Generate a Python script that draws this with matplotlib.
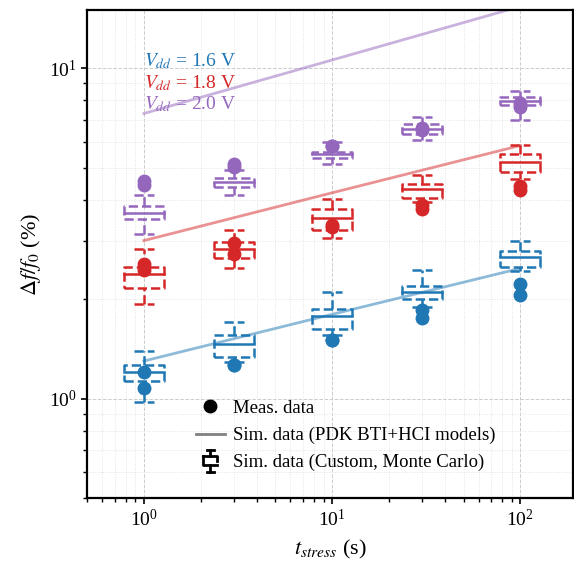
import numpy as np
import matplotlib.pyplot as plt
from matplotlib.lines import Line2D
from matplotlib.legend_handler import HandlerBase

plt.rcParams['font.family'] = 'serif'
plt.rcParams['font.serif'] = ['Liberation Serif', 'DejaVu Serif']
plt.rcParams['mathtext.fontset'] = 'stix'

t_stress = [1, 3, 10, 30, 100]
vdd_labels = ['1.6', '1.8', '2.0']
colors = ['#1f77b4', '#d62728', '#9467bd']

# measured shift, two dies per stress time
meas_a = [[1.20, 1.26, 1.50, 1.85, 2.22],
          [2.55, 2.95, 3.36, 3.87, 4.39],
          [4.57, 5.12, 5.84, 6.62, 7.83]]
meas_b = [[1.08, 1.26, 1.50, 1.76, 2.06],
          [2.46, 2.75, 3.30, 3.74, 4.27],
          [4.42, 5.01, 5.84, 6.49, 7.62]]

# PDK aging model
t_pdk = [1, 10, 100]
pdk = [[1.30, 1.80, 2.48],
       [3.01, 4.20, 5.84],
       [7.30, 10.6, 15.4]]

# Monte Carlo box stats
whis_lo = [[0.98, 1.29, 1.56, 1.90, 2.43],
           [1.93, 2.49, 3.07, 3.93, 4.61],
           [3.16, 4.15, 5.12, 6.05, 7.00]]
q1 = [[1.13, 1.34, 1.62, 2.00, 2.51],
      [2.17, 2.67, 3.25, 4.06, 4.84],
      [3.51, 4.36, 5.37, 6.31, 7.73]]
med = [[1.20, 1.46, 1.78, 2.10, 2.68],
       [2.38, 2.83, 3.53, 4.30, 5.19],
       [3.66, 4.54, 5.49, 6.53, 7.94]]
q3 = [[1.26, 1.56, 1.87, 2.20, 2.79],
      [2.51, 2.97, 3.74, 4.45, 5.49],
      [3.82, 4.67, 5.60, 6.77, 8.17]]
whis_hi = [[1.39, 1.71, 2.10, 2.46, 3.01],
           [2.83, 3.25, 4.01, 4.77, 5.88],
           [4.15, 4.94, 5.97, 7.10, 8.52]]

# label heights for the supply voltage tags
vdd_text_y = [10.5, 9.05, 7.8]


def draw_box(ax, x, lo, b1, m, b3, hi, color, half=1.277, cap=1.13):
    # symmetric in log-x
    kw = dict(color=color, lw=1.8, ls='--', zorder=3)
    xl, xr = x / half, x * half
    ax.plot([xl, xr, xr, xl, xl], [b1, b1, b3, b3, b1], **kw)
    ax.plot([x, x], [b3, hi], **kw)
    ax.plot([x, x], [lo, b1], **kw)
    ax.plot([x / cap, x * cap], [hi, hi], **kw)
    ax.plot([x / cap, x * cap], [lo, lo], **kw)
    ax.plot([xl, xr], [m, m], color=color, lw=1.8, zorder=3)


class BoxHandler(HandlerBase):
    def create_artists(self, legend, orig_handle, xdescent, ydescent,
                       width, height, fontsize, trans):
        cx = width / 2 - xdescent
        h = height * 1.7
        y0 = -ydescent - 0.35 * height
        w = width * 0.25
        kw = dict(color='k', lw=2, transform=trans)
        segs = [
            ([cx - w / 2, cx + w / 2], [y0 + h, y0 + h]),
            ([cx, cx], [y0 + h, y0 + 0.7 * h]),
            ([cx - w, cx + w, cx + w], [y0 + 0.7 * h, y0 + 0.7 * h, y0 + 0.5 * h]),
            ([cx - w, cx - w, cx + w], [y0 + 0.7 * h, y0 + 0.3 * h, y0 + 0.3 * h]),
            ([cx, cx], [y0 + 0.3 * h, y0]),
            ([cx - w / 2, cx + w / 2], [y0, y0]),
        ]
        return [Line2D(xs, ys, **kw) for xs, ys in segs]


fig = plt.figure(figsize=(5.74, 5.66), dpi=100)
ax = fig.add_axes([0.152, 0.12, 0.846, 0.862])
ax.set_xscale('log')
ax.set_yscale('log')

for i, c in enumerate(colors):
    ax.plot(t_pdk, pdk[i], color=c, lw=2, alpha=0.5, zorder=2)
    for j, t in enumerate(t_stress):
        draw_box(ax, t, whis_lo[i][j], q1[i][j], med[i][j], q3[i][j],
                 whis_hi[i][j], c)
    ax.plot(t_stress, meas_a[i], 'o', color=c, ms=9, zorder=4)
    ax.plot(t_stress, meas_b[i], 'o', color=c, ms=9, zorder=4)
    ax.text(1, vdd_text_y[i], r'$V_{dd}$ = ' + vdd_labels[i] + ' V',
            color=c, fontsize=14, va='center', ha='left', zorder=1)

ax.set_xlim(0.5, 190)
ax.set_ylim(0.5, 15)

ax.grid(True, which='major', ls='--', color='#cccccc', lw=0.7)
ax.grid(True, which='minor', ls=':', color='#e3e3e3', lw=0.7)
ax.set_axisbelow(True)

for s in ax.spines.values():
    s.set_linewidth(1.6)
ax.tick_params(which='major', direction='out', length=4, width=1.2, labelsize=14)
ax.tick_params(which='minor', direction='out', length=3, width=1.0)

ax.set_xlabel(r'$t_{stress}$ (s)', fontsize=16, labelpad=6)
ax.set_ylabel(r'$\Delta f/f_0$ (%)', fontsize=16)

handles = [Line2D([], [], marker='o', ls='', color='k', ms=9),
           Line2D([], [], color='gray', lw=2),
           object()]
labels = ['Meas. data', 'Sim. data (PDK BTI+HCI models)',
          'Sim. data (Custom, Monte Carlo)']
ax.legend(handles, labels, loc='lower left', bbox_to_anchor=(0.19, 0.02),
          frameon=False, fontsize=13.5, handlelength=1.5, handletextpad=0.45,
          labelspacing=0.53, handler_map={object: BoxHandler()})

fig.savefig('out.png', dpi=100)
